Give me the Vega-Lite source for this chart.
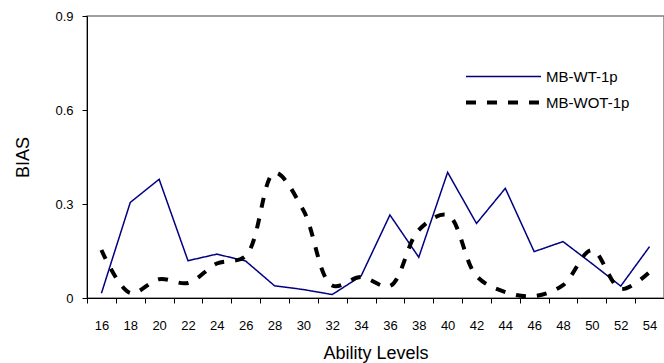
{
  "$schema": "https://vega.github.io/schema/vega-lite/v6.json",
  "width": 577,
  "height": 282,
  "autosize": {"type": "none"},
  "padding": {"left": 87, "top": 16, "right": 0, "bottom": 65},
  "background": "white",
  "config": {
    "font": "Liberation Sans",
    "view": {"stroke": "#808080", "strokeWidth": 1.5},
    "axis": {"domainColor": "black", "tickColor": "black", "labelColor": "black", "titleColor": "black", "labelFont": "Liberation Sans", "titleFont": "Liberation Sans", "titleFontWeight": "normal", "grid": false, "labelOverlap": false}
  },
  "data": {
    "values": [
      {"level": 16, "bias": 0.015, "series": "MB-WT-1p"},
      {"level": 18, "bias": 0.305, "series": "MB-WT-1p"},
      {"level": 20, "bias": 0.379, "series": "MB-WT-1p"},
      {"level": 22, "bias": 0.119, "series": "MB-WT-1p"},
      {"level": 24, "bias": 0.140, "series": "MB-WT-1p"},
      {"level": 26, "bias": 0.118, "series": "MB-WT-1p"},
      {"level": 28, "bias": 0.039, "series": "MB-WT-1p"},
      {"level": 30, "bias": 0.027, "series": "MB-WT-1p"},
      {"level": 32, "bias": 0.011, "series": "MB-WT-1p"},
      {"level": 34, "bias": 0.070, "series": "MB-WT-1p"},
      {"level": 36, "bias": 0.265, "series": "MB-WT-1p"},
      {"level": 38, "bias": 0.130, "series": "MB-WT-1p"},
      {"level": 40, "bias": 0.401, "series": "MB-WT-1p"},
      {"level": 42, "bias": 0.238, "series": "MB-WT-1p"},
      {"level": 44, "bias": 0.350, "series": "MB-WT-1p"},
      {"level": 46, "bias": 0.148, "series": "MB-WT-1p"},
      {"level": 48, "bias": 0.180, "series": "MB-WT-1p"},
      {"level": 50, "bias": 0.110, "series": "MB-WT-1p"},
      {"level": 52, "bias": 0.038, "series": "MB-WT-1p"},
      {"level": 54, "bias": 0.164, "series": "MB-WT-1p"},
      {"level": 16, "bias": 0.153, "series": "MB-WOT-1p"},
      {"level": 18, "bias": 0.016, "series": "MB-WOT-1p"},
      {"level": 20, "bias": 0.060, "series": "MB-WOT-1p"},
      {"level": 22, "bias": 0.048, "series": "MB-WOT-1p"},
      {"level": 24, "bias": 0.110, "series": "MB-WOT-1p"},
      {"level": 26, "bias": 0.134, "series": "MB-WOT-1p"},
      {"level": 28, "bias": 0.400, "series": "MB-WOT-1p"},
      {"level": 30, "bias": 0.280, "series": "MB-WOT-1p"},
      {"level": 32, "bias": 0.040, "series": "MB-WOT-1p"},
      {"level": 34, "bias": 0.067, "series": "MB-WOT-1p"},
      {"level": 36, "bias": 0.038, "series": "MB-WOT-1p"},
      {"level": 38, "bias": 0.217, "series": "MB-WOT-1p"},
      {"level": 40, "bias": 0.265, "series": "MB-WOT-1p"},
      {"level": 42, "bias": 0.070, "series": "MB-WOT-1p"},
      {"level": 44, "bias": 0.019, "series": "MB-WOT-1p"},
      {"level": 46, "bias": 0.006, "series": "MB-WOT-1p"},
      {"level": 48, "bias": 0.041, "series": "MB-WOT-1p"},
      {"level": 50, "bias": 0.153, "series": "MB-WOT-1p"},
      {"level": 52, "bias": 0.029, "series": "MB-WOT-1p"},
      {"level": 54, "bias": 0.083, "series": "MB-WOT-1p"}
    ]
  },
  "encoding": {
    "x": {"field": "level", "type": "quantitative", "scale": {"domain": [15, 55], "nice": false, "zero": false},
      "axis": {"title": "Ability Levels", "titleFontSize": 18, "titlePadding": 12, "values": [15,16,17,18,19,20,21,22,23,24,25,26,27,28,29,30,31,32,33,34,35,36,37,38,39,40,41,42,43,44,45,46,47,48,49,50,51,52,53,54,55],
        "labelExpr": "datum.value % 2 == 0 ? datum.label : ''", "labelFontSize": 13, "labelPadding": 16, "tickSize": 5, "labelFlush": false, "labelOverlap": false,
        "tickOpacity": {"condition": {"test": "datum.value % 2 == 1", "value": 1}, "value": 0}}},
    "y": {"field": "bias", "type": "quantitative", "scale": {"domain": [0, 0.9], "nice": false},
      "axis": {"title": "BIAS", "titleFontSize": 18, "titlePadding": 22, "values": [0, 0.3, 0.6, 0.9], "labelExpr": "datum.value == 0 ? '0' : format(datum.value, '.1f')", "labelFontSize": 13, "labelPadding": 9, "tickSize": 5}},
    "color": {"field": "series", "type": "nominal", "scale": {"domain": ["MB-WT-1p", "MB-WOT-1p"], "range": ["#000080", "#000000"]},
      "legend": {"title": null, "orient": "none", "legendX": 437, "legendY": 52, "symbolType": "M-9,0H1", "symbolSize": 225, "labelFontSize": 15, "labelOffset": 3, "rowPadding": 8, "padding": 0, "symbolStrokeWidth": 3}},
    "strokeDash": {"field": "series", "type": "nominal", "scale": {"domain": ["MB-WT-1p", "MB-WOT-1p"], "range": [[1, 0], [10, 11]]}},
    "strokeWidth": {"field": "series", "type": "nominal", "scale": {"domain": ["MB-WT-1p", "MB-WOT-1p"], "range": [1.5, 4]}, "legend": null}
  },
  "layer": [
    {
      "transform": [{"filter": "datum.series == 'MB-WT-1p'"}],
      "mark": {"type": "line", "interpolate": "linear", "clip": true}
    },
    {
      "transform": [{"filter": "datum.series == 'MB-WOT-1p'"}],
      "mark": {"type": "line", "interpolate": "catmull-rom", "clip": true}
    }
  ]
}
